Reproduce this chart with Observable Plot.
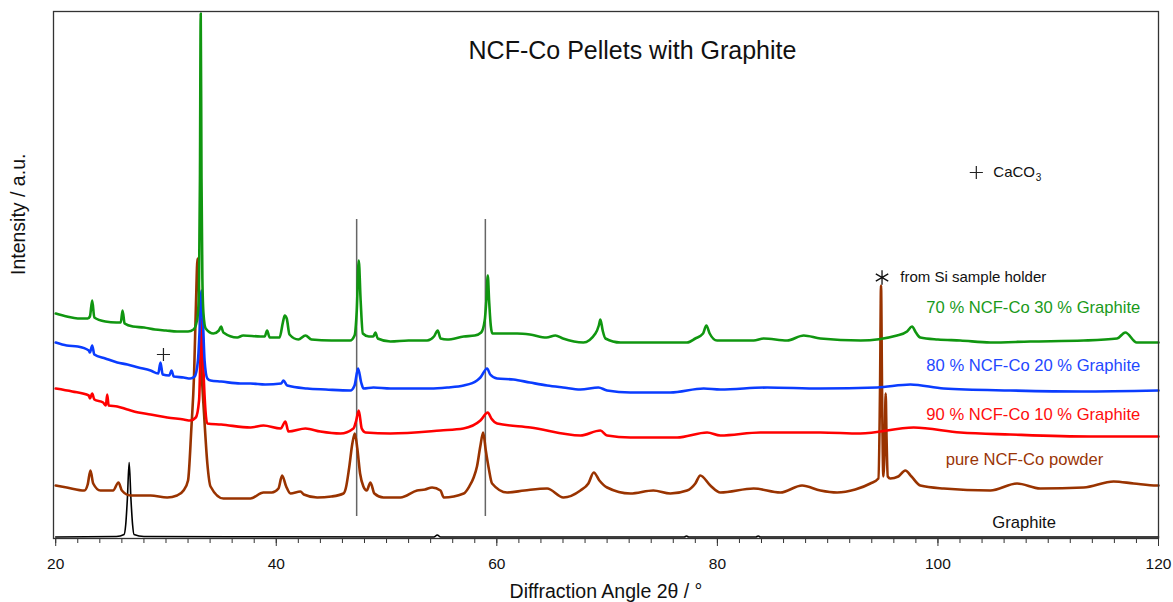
<!DOCTYPE html>
<html><head><meta charset="utf-8">
<script src="https://cdn.jsdelivr.net/npm/d3@7"></script>
<script src="https://cdn.jsdelivr.net/npm/@observablehq/plot@0.6"></script>
<style>body{margin:0;background:#fff}</style>
</head><body><div id="chart"></div>
<script>
// 2θ (degrees), intensity (a.u., offset patterns)
const green = [[20.0,225],[21.0,222],[22.0,220],[22.9,220],[23.1,222],[23.31,238],[23.5,221],[24.5,217],[25.5,216],[25.9,216],[26.06,228],[26.25,215],[27,212],[28,211],[29,209],[30,208],[31,207],[32,207],[32.5,209],[32.7,213],[32.9,225],[33.0,260],[33.08,360],[33.15,525],[33.22,360],[33.3,260],[33.4,225],[33.6,210],[34.3,205],[34.8,208],[35.0,212],[35.2,206],[36.46,201],[37.0,203],[38.57,202],[38.95,202],[39.17,208],[39.4,201],[40.3,201],[40.6,216],[40.77,223],[40.95,220],[41.2,204],[42.0,199],[42.65,203],[43.2,199],[45.0,198],[46.7,198],[47.1,203],[47.3,228],[47.48,278],[47.65,238],[47.85,205],[48.4,202],[48.8,202],[48.99,206],[49.2,200],[50.35,197],[52,198],[53.68,198],[54.3,202],[54.64,208],[54.9,200],[55.49,199],[57.0,202],[58.0,203],[58.58,206],[58.9,218],[59.05,238],[59.18,263],[59.3,238],[59.45,213],[59.6,205],[61.84,205],[63,204],[64.5,201],[65.31,203],[66,200],[67.85,196],[68.94,205],[69.25,213],[69.39,219],[69.6,208],[69.85,200],[71.21,196],[75,196],[77.25,196],[78.0,200],[78.7,205],[79.0,213],[79.3,205],[79.97,198],[83.29,198],[84.2,200],[86.32,198],[87.83,203],[89.34,200],[93,198],[96.29,203],[97.2,207],[97.65,212],[98.0,206],[98.4,201],[100,199],[102.03,198],[104.75,196],[108.37,197],[113.21,198],[116.24,200],[116.99,206],[118.03,196],[120,196]];

const blue = [[20.0,196],[21.0,193],[22.0,192],[23.0,188],[23.1,186],[23.31,193],[23.5,184],[24.5,180],[25.58,176],[26.5,174],[27.5,171],[28.6,168],[29.3,165],[29.5,176],[29.7,164],[30.3,163],[30.5,168],[30.7,162],[31.6,161],[32.2,160],[32.6,162],[32.9,178],[33.05,208],[33.22,248],[33.35,218],[33.5,178],[33.75,160],[34.04,158],[35.0,157],[36.75,155],[37.66,155],[39.0,154],[40.45,155],[40.65,158],[41.0,153],[42.8,150],[44.5,149],[46.72,148],[47.1,153],[47.42,170],[47.7,156],[47.91,150],[48.81,151],[50.35,150],[51.26,150],[53.98,150],[55.5,151],[57.0,153],[58.2,158],[58.51,161],[59.12,170],[59.4,164],[60.03,160],[61.5,159],[63,156],[64.56,153],[66,151],[67.58,149],[69.21,151],[70,148],[72.11,146],[75.73,146],[78.76,150],[80.27,149],[84.5,151],[89.34,150],[94.48,151],[97.5,154],[100.52,150],[106.56,148],[113,147],[120,148]];

const red = [[20.0,150],[21.5,147],[23.0,143],[23.1,140],[23.31,145],[23.5,139],[24.3,136],[24.55,133],[24.67,144],[24.8,133],[25.58,132],[26.5,129],[27.5,126],[28.6,124],[30.11,121],[31.6,119],[32.2,118],[32.7,121],[33.0,138],[33.12,180],[33.25,220],[33.4,168],[33.58,128],[33.74,115],[35,114],[37.66,111],[38.84,113],[40.4,110],[40.83,117],[41.1,107],[42.65,110],[44,107],[45.82,105],[47.0,110],[47.25,118],[47.48,128],[47.75,110],[48.09,106],[50.35,105],[54.89,108],[56.97,110],[58.51,118],[59.18,126],[59.5,120],[60.03,115],[63.05,111],[67.58,103],[69.39,108],[70.0,103],[72.11,101],[76.34,101],[79.07,106],[80.27,103],[83.9,106],[89.34,106],[92.96,105],[97.8,111],[102.03,106],[106.56,104],[113.82,102],[120,102]];

const brown = [[20.0,53],[21.0,51],[22.6,48],[22.9,54],[23.15,68],[23.4,55],[24.06,48],[25.2,48],[25.69,56],[26.0,48],[26.78,43],[28.6,43],[30.11,41],[31.0,43],[31.59,48],[32.0,58],[32.3,110],[32.55,165],[32.72,235],[32.86,280],[33.0,245],[33.2,175],[33.45,125],[33.75,75],[34.04,52],[35.21,40],[36.5,40],[37.66,40],[38.84,46],[39.6,46],[40.2,50],[40.53,63],[40.9,52],[41.29,45],[42.19,47],[42.5,44],[43.71,41],[45.0,42],[46.09,45],[46.3,50],[46.6,70],[46.9,95],[47.12,105],[47.35,90],[47.6,65],[47.9,52],[48.2,48],[48.54,56],[48.9,45],[49.72,41],[51.26,41],[52.77,48],[53.5,49],[54.13,51],[54.89,48],[55.19,41],[57.0,45],[57.5,52],[57.9,61],[58.2,72],[58.5,92],[58.76,106],[59.0,88],[59.27,70],[59.57,55],[60.93,46],[62.5,48],[64.56,50],[66.04,41],[67.58,48],[68.3,55],[68.79,66],[69.3,58],[70.0,51],[72.11,45],[74.19,48],[75.73,45],[77.25,48],[78.0,55],[78.45,63],[79.36,53],[80.27,46],[83.29,50],[85.71,46],[87.68,53],[89.34,48],[90.85,46],[92.5,49],[93.87,55],[94.6,60],[94.75,150],[94.84,253],[94.93,150],[95.05,62],[95.18,100],[95.26,145],[95.34,100],[95.45,62],[95.68,60],[96.4,62],[97.04,68],[97.6,62],[98.4,53],[100.52,50],[104.75,48],[107.17,55],[109.28,50],[113.21,51],[115.93,57],[117.75,55],[119.85,53],[120,53]];

const graphite = [[20,1.5],[25.5,2],[26.2,4],[26.35,14],[26.5,40],[26.66,76],[26.82,40],[26.97,14],[27.1,4],[28,2],[54.3,1.5],[54.6,3.5],[54.9,1.5],[77,1.5],[77.2,2.5],[77.4,1.5],[83.5,1.5],[83.7,2.5],[83.9,1.5],[120,1.5]];

const referenceLines = [47.29, 58.96];
const majorTicks = [20, 40, 60, 80, 100, 120];
const minorTicks = d3.range(20, 121, 2);

const seriesLabels = [
  {x: 118.35, y: 231, text: "70 % NCF-Co 30 % Graphite", color: "#1a9a1a"},
  {x: 118.35, y: 173, text: "80 % NCF-Co 20 % Graphite", color: "#1f48ff"},
  {x: 118.35, y: 124, text: "90 % NCF-Co 10 % Graphite", color: "#ff0d0d"},
  {x: 115.0, y: 79, text: "pure NCF-Co powder", color: "#9a3506"},
  {x: 110.7, y: 16, text: "Graphite", color: "#111"}
];

const font = "'Liberation Sans', Arial, Helvetica, sans-serif";

const chart = Plot.plot({
  width: 1173,
  height: 602,
  marginLeft: 53,
  marginRight: 15,
  marginTop: 11,
  marginBottom: 64,
  style: {fontFamily: font, background: "#fff", color: "#222", overflow: "visible"},
  x: {domain: [19.8, 120]},
  y: {domain: [0, 527], axis: null},
  marks: [
    Plot.ruleX(referenceLines, {y1: 22, y2: 319, stroke: "#666", strokeWidth: 1.5}),
    Plot.line(graphite, {stroke: "#000", strokeWidth: 1.6, curve: "monotone-x"}),
    Plot.line(brown, {stroke: "#993300", strokeWidth: 2.6, curve: "monotone-x", strokeLinejoin: "round"}),
    Plot.line(red, {stroke: "#ff0000", strokeWidth: 2.6, curve: "monotone-x", strokeLinejoin: "round"}),
    Plot.line(blue, {stroke: "#0a3cff", strokeWidth: 2.6, curve: "monotone-x", strokeLinejoin: "round"}),
    Plot.line(green, {stroke: "#109610", strokeWidth: 2.6, curve: "monotone-x", strokeLinejoin: "round"}),
    Plot.frame({stroke: "#333", strokeWidth: 1.3}),
    Plot.axisX(minorTicks, {tickSize: 5, tickFormat: () => "", label: null, stroke: "#333"}),
    Plot.axisX(majorTicks, {tickSize: 8, tickPadding: 11, fontSize: 15.5, label: null, stroke: "#333", fill: "#111", tickFormat: d => String(d)}),
    Plot.text(seriesLabels, {x: "x", y: "y", text: "text", fill: "color", textAnchor: "end", lineAnchor: "middle", fontSize: 16.6}),
    Plot.text([{x: 72.3, y: 488, t: "NCF-Co Pellets with Graphite"}], {x: "x", y: "y", text: "t", fontSize: 25, lineAnchor: "middle", fill: "#111"}),
    Plot.dot([[29.77, 184], [103.48, 366]], {symbol: d3.symbolPlus, r: 4.3, fill: "none", stroke: "#222", strokeWidth: 1.2}),
    Plot.dot([[94.93, 261]], {symbol: d3.symbolAsterisk, r: 6.8, fill: "none", stroke: "#111", strokeWidth: 1.3}),
    Plot.text([{x: 96.59, y: 261, t: "from Si sample holder"}], {x: "x", y: "y", text: "t", textAnchor: "start", lineAnchor: "middle", fontSize: 15, fill: "#111"}),
    Plot.text([{x: 105.02, y: 366, t: "CaCO"}], {x: "x", y: "y", text: "t", textAnchor: "start", lineAnchor: "middle", fontSize: 15, fill: "#111"}),
    Plot.text([{x: 105.02, y: 366, t: "3"}], {x: "x", y: "y", text: "t", textAnchor: "start", lineAnchor: "middle", fontSize: 10, dx: 42.5, dy: 5, fill: "#111"}),
    Plot.text(["Diffraction Angle 2θ / °"], {frameAnchor: "bottom", dy: 53, lineAnchor: "middle", fontSize: 19.5, fill: "#111"}),
    Plot.text(["Intensity / a.u."], {frameAnchor: "left", dx: -35, rotate: -90, lineAnchor: "middle", fontSize: 19.5, fill: "#111"})
  ]
});
document.getElementById("chart").appendChild(chart);
</script>
</body></html>
